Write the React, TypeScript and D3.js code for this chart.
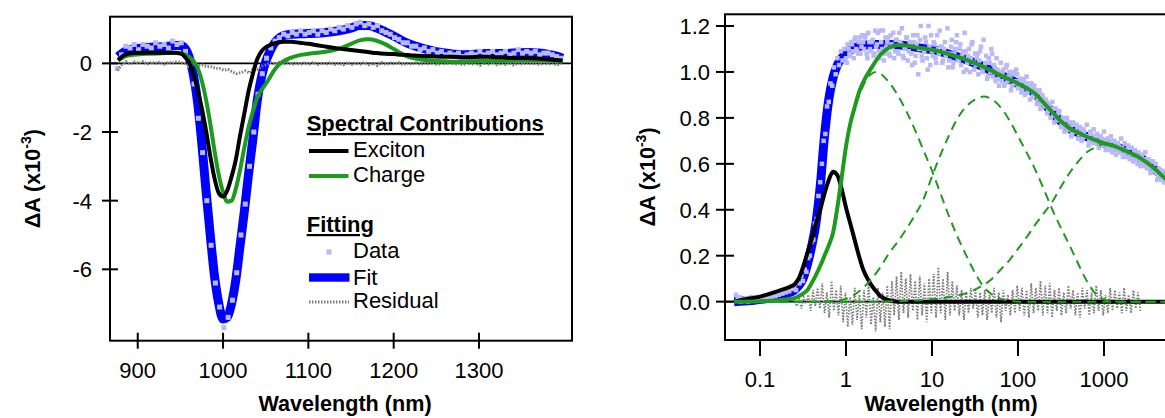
import React from 'react';
import * as d3 from 'd3';

// ---------- Left panel: spectral contributions (x: nm, y: ΔA ×10^-3) ----------
const LEFT_NM = [877,885,895,905,915,925,935,945,950,955,960,965,970,975,980,985,990,995,1000,1005,1010,1015,1020,1025,1030,1035,1040,1045,1050,1055,1060,1065,1070,1080,1090,1100,1110,1120,1130,1140,1150,1160,1170,1180,1190,1200,1210,1220,1230,1240,1250,1260,1270,1280,1290,1300,1310,1320,1330,1340,1350,1360,1370,1380,1390,1398];
const LEFT_FIT = [0.2,0.35,0.42,0.45,0.47,0.48,0.5,0.52,0.52,0.45,0.2,-0.3,-1.1,-2.3,-3.7,-5.0,-6.2,-7.0,-7.45,-7.4,-7.0,-6.3,-5.3,-4.3,-3.2,-2.2,-1.1,-0.4,0.05,0.35,0.58,0.72,0.8,0.85,0.86,0.87,0.88,0.9,0.93,0.97,1.03,1.1,1.1,1.03,0.92,0.8,0.66,0.55,0.47,0.4,0.34,0.3,0.27,0.25,0.26,0.28,0.29,0.29,0.29,0.3,0.31,0.32,0.3,0.27,0.22,0.15];
const LEFT_EXCITON = [0.1,0.25,0.3,0.31,0.31,0.31,0.31,0.31,0.29,0.2,0.03,-0.28,-0.75,-1.3,-1.95,-2.7,-3.35,-3.78,-3.88,-3.7,-3.3,-2.8,-2.1,-1.45,-0.8,-0.3,0.12,0.35,0.47,0.53,0.58,0.61,0.63,0.63,0.6,0.57,0.53,0.49,0.45,0.42,0.39,0.36,0.33,0.3,0.28,0.27,0.25,0.24,0.22,0.21,0.2,0.19,0.19,0.18,0.18,0.19,0.19,0.18,0.17,0.16,0.16,0.15,0.14,0.12,0.1,0.08];
const LEFT_CHARGE = [0.08,0.2,0.25,0.27,0.28,0.29,0.3,0.3,0.29,0.26,0.19,0.08,-0.12,-0.5,-1.05,-1.75,-2.55,-3.25,-3.75,-4.03,-4.0,-3.65,-3.1,-2.45,-1.85,-1.4,-1.0,-0.78,-0.6,-0.4,-0.2,-0.05,0.05,0.17,0.24,0.28,0.31,0.34,0.39,0.46,0.57,0.67,0.7,0.66,0.56,0.42,0.27,0.17,0.12,0.09,0.07,0.06,0.05,0.05,0.06,0.07,0.07,0.07,0.08,0.09,0.1,0.1,0.1,0.09,0.07,0.05];
const LEFT_DATA_START = 876;
const LEFT_DATA_STEP = 5;
const LEFT_DATA = [
  -0.15,0.25,0.5,0.45,0.55,0.4,0.55,0.5,0.45,0.6,
  0.5,0.55,0.45,0.65,0.55,0.6,0.35,-0.05,-0.6,-1.6,
  -2.6,-4.0,-5.3,-6.4,-7.1,-7.7,-7.4,-6.9,-6.1,-5.0,
  -4.1,-3.0,-2.0,-0.9,-0.3,0.15,0.45,0.65,0.75,0.85,
  0.8,0.9,0.85,0.95,0.85,0.9,0.95,0.85,0.95,0.9,
  1.0,0.95,1.05,1.0,1.1,1.05,1.15,1.2,1.1,1.15,
  1.05,1.1,0.95,0.9,0.85,0.75,0.7,0.6,0.6,0.5,
  0.5,0.4,0.45,0.35,0.4,0.3,0.35,0.25,0.3,0.25,
  0.3,0.2,0.25,0.3,0.25,0.35,0.25,0.3,0.35,0.25,
  0.3,0.35,0.25,0.3,0.4,0.3,0.35,0.3,0.35,0.25,
  0.3,0.3,0.25,0.2,0.15
];
const LEFT_RESIDUAL = [
  -0.2,-0.05,0.05,-0.02,0.04,0.0,0.05,-0.03,0.03,0.0,
  0.04,-0.02,0.03,0.01,0.05,0.02,0.0,-0.03,-0.02,-0.06,
  -0.05,-0.09,-0.1,-0.14,-0.15,-0.2,-0.18,-0.25,-0.3,-0.27,
  -0.22,-0.28,-0.15,-0.18,-0.08,-0.04,0.02,-0.03,0.03,-0.02,
  0.02,-0.04,0.01,-0.03,0.02,-0.02,0.03,-0.03,0.01,-0.02,
  0.02,-0.03,0.0,-0.04,0.02,-0.03,0.01,-0.02,0.03,-0.04,
  0.0,-0.06,0.02,-0.03,0.01,-0.02,0.02,-0.04,0.0,-0.02,
  0.02,-0.03,0.01,-0.02,0.02,-0.04,0.01,-0.02,0.03,-0.03,
  0.0,-0.05,0.02,-0.03,0.01,-0.06,0.02,-0.02,0.03,-0.04,
  0.0,-0.03,0.02,-0.05,0.01,-0.03,0.02,-0.02,0.01,-0.04,
  0.02,-0.03,0.01,-0.05,0.0
];
const LEFT_X_TICKS = [900, 1000, 1100, 1200, 1300];
const LEFT_Y_TICKS = [0, -2, -4, -6];

// ---------- Right panel: kinetics (x: log10 of axis value, y: ΔA ×10^-3) ----------
const RIGHT_FIT: [number, number][] = [[-1.3,0],[-1.1,0.005],[-0.9,0.015],[-0.8,0.025],[-0.7,0.035],[-0.6,0.05],[-0.55,0.07],[-0.5,0.1],[-0.45,0.16],[-0.4,0.24],[-0.35,0.34],[-0.3,0.5],[-0.25,0.72],[-0.2,0.88],[-0.15,0.975],[-0.1,1.03],[-0.05,1.06],[0,1.08],[0.1,1.105],[0.2,1.115],[0.3,1.12],[0.4,1.12],[0.5,1.12],[0.6,1.118],[0.7,1.114],[0.8,1.108],[0.9,1.102],[1.0,1.097],[1.2,1.077],[1.4,1.053],[1.6,1.022],[1.8,0.985],[2.0,0.95],[2.1,0.93],[2.2,0.905],[2.3,0.865],[2.4,0.825],[2.5,0.785],[2.6,0.755],[2.7,0.735],[2.8,0.718],[2.9,0.703],[3.0,0.69],[3.1,0.68],[3.2,0.665],[3.3,0.648],[3.4,0.63],[3.5,0.605],[3.6,0.575],[3.7,0.54],[3.8,0.51],[3.9,0.48]];
const RIGHT_EXCITON: [number, number][] = [[-1.3,0],[-1.2,0.008],[-1.0,0.022],[-0.8,0.045],[-0.65,0.065],[-0.6,0.075],[-0.55,0.1],[-0.5,0.15],[-0.45,0.21],[-0.4,0.27],[-0.35,0.34],[-0.3,0.4],[-0.25,0.47],[-0.2,0.53],[-0.15,0.565],[-0.1,0.55],[-0.05,0.49],[0,0.41],[0.05,0.34],[0.1,0.27],[0.15,0.2],[0.2,0.14],[0.25,0.1],[0.3,0.07],[0.35,0.045],[0.4,0.025],[0.5,0.006],[0.6,0],[3.9,0]];
const RIGHT_CHARGE: [number, number][] = [[-1.3,0],[-1.0,0.002],[-0.8,0.006],[-0.6,0.015],[-0.5,0.035],[-0.45,0.05],[-0.4,0.08],[-0.35,0.115],[-0.3,0.155],[-0.25,0.2],[-0.2,0.245],[-0.15,0.3],[-0.1,0.41],[-0.05,0.54],[0,0.675],[0.05,0.775],[0.1,0.845],[0.15,0.91],[0.2,0.955],[0.3,1.02],[0.4,1.075],[0.5,1.105],[0.6,1.117],[0.7,1.115],[0.8,1.108],[0.9,1.102],[1.0,1.097],[1.2,1.077],[1.4,1.053],[1.6,1.022],[1.8,0.985],[2.0,0.95],[2.1,0.93],[2.2,0.905],[2.3,0.865],[2.4,0.825],[2.5,0.785],[2.6,0.755],[2.7,0.735],[2.8,0.718],[2.9,0.703],[3.0,0.69],[3.1,0.68],[3.2,0.665],[3.3,0.648],[3.4,0.63],[3.5,0.605],[3.6,0.575],[3.7,0.54],[3.8,0.51],[3.9,0.48]];
const RIGHT_COMP1: [number, number][] = [[-1.3,0],[-1.0,0.002],[-0.8,0.006],[-0.6,0.015],[-0.5,0.035],[-0.45,0.05],[-0.4,0.08],[-0.35,0.115],[-0.3,0.155],[-0.25,0.2],[-0.2,0.245],[-0.15,0.3],[-0.1,0.41],[-0.05,0.54],[0,0.67],[0.05,0.765],[0.1,0.835],[0.15,0.895],[0.2,0.94],[0.25,0.975],[0.3,0.993],[0.35,1.0],[0.4,0.993],[0.5,0.955],[0.6,0.9],[0.7,0.83],[0.8,0.75],[0.9,0.66],[1.0,0.57],[1.1,0.47],[1.2,0.37],[1.3,0.28],[1.4,0.2],[1.5,0.125],[1.6,0.065],[1.7,0.03],[1.8,0.012],[1.9,0.004],[2.0,0],[3.9,0]];
const RIGHT_COMP2: [number, number][] = [[-1.3,0],[-0.3,0],[-0.2,0.002],[-0.1,0.005],[0,0.012],[0.1,0.03],[0.2,0.06],[0.3,0.1],[0.4,0.15],[0.5,0.21],[0.6,0.26],[0.7,0.315],[0.8,0.375],[0.9,0.445],[1.0,0.545],[1.1,0.64],[1.2,0.725],[1.3,0.8],[1.4,0.85],[1.5,0.88],[1.6,0.893],[1.7,0.88],[1.8,0.845],[1.9,0.79],[2.0,0.72],[2.1,0.65],[2.2,0.575],[2.3,0.49],[2.4,0.4],[2.5,0.32],[2.6,0.245],[2.7,0.165],[2.8,0.09],[2.9,0.035],[3.0,0.01],[3.1,0.002],[3.2,0],[3.9,0]];
const RIGHT_COMP3: [number, number][] = [[-1.3,0],[0.4,0],[0.6,0.002],[0.8,0.005],[1.0,0.01],[1.2,0.02],[1.4,0.037],[1.6,0.073],[1.7,0.1],[1.8,0.14],[1.9,0.18],[2.0,0.23],[2.1,0.28],[2.2,0.335],[2.3,0.385],[2.4,0.435],[2.5,0.5],[2.6,0.56],[2.7,0.61],[2.8,0.65],[2.9,0.672],[3.0,0.685],[3.1,0.68],[3.2,0.665],[3.3,0.648],[3.4,0.63],[3.5,0.605],[3.6,0.575],[3.7,0.54],[3.8,0.51],[3.9,0.48]];
const RIGHT_DATA_LOG_START = -1.28;
const RIGHT_DATA_LOG_STEP = 0.02;
const RIGHT_DATA = [
  0.03,0.01,0.02,0.0,0.01,0.005,0.015,0.0,0.01,0.02,
  0.005,0.015,0.01,0.02,0.01,0.02,0.015,0.025,0.015,0.02,
  0.03,0.02,0.03,0.025,0.035,0.03,0.04,0.035,0.045,0.04,
  0.05,0.045,0.06,0.055,
  0.07,0.05,0.09,0.08,0.11,0.09,0.14,0.13,0.19,0.2,
  0.26,0.27,0.34,0.36,0.46,0.52,0.6,0.7,0.73,0.85,
  0.87,0.95,0.94,1.02,0.99,1.06,1.03,1.09,1.05,1.1,
  1.06,1.12,1.08,1.13,1.09,1.14,1.1,1.08,1.15,1.11,1.13,
  1.15,1.08,1.17,1.1,1.13, 1.07,1.18,1.12,1.09,1.18,
  1.1,1.05,1.15,1.13,1.08, 1.16,1.11,1.06,1.14,1.09,
  1.17,1.12,1.07,1.1,1.15, 1.05,1.13,1.08,1.16,1.04,
  1.12,0.99,1.14,1.07,1.1, 1.15,1.06,1.2,1.03,1.09,
  1.13,1.06,1.16,1.08,1.11, 1.04,1.1,1.07,1.19,1.05,
  1.11,1.02,1.08,1.13,1.06, 1.1,1.03,1.09,1.17,1.01,
  1.07,1.0,1.12,1.04,1.08, 1.06,0.99,1.09,1.02,1.14,
  1.04,0.97,1.06,1.0,1.08, 1.03,0.96,1.01,0.94,1.04,
  0.99,0.94,1.02,0.96,1.0, 0.92,0.99,0.95,1.01,0.93,
  0.97,0.91,0.96,0.9,0.98, 0.94,0.88,0.95,0.9,0.92,
  0.86,0.91,0.84,0.9,0.87, 0.88,0.82,0.86,0.8,0.87,
  0.78,0.84,0.79,0.83,0.76, 0.8,0.74,0.79,0.75,0.78,
  0.72,0.78,0.74,0.77,0.71, 0.76,0.7,0.75,0.72,0.77,
  0.68,0.74,0.7,0.75,0.69, 0.73,0.67,0.72,0.68,0.74,
  0.66,0.71,0.67,0.72,0.65, 0.7,0.64,0.69,0.66,0.71,
  0.63,0.69,0.65,0.68,0.62, 0.67,0.61,0.66,0.62,0.65,
  0.59,0.64,0.6,0.65,0.58, 0.62,0.56,0.61,0.57,0.6,
  0.53,0.58,0.54,0.57,0.52, 0.55,0.5,0.54,0.49,0.53,
  0.48,0.52,0.47
];
// second scan, interleaved with the first
const RIGHT_DATA_B_LOG_START = 0.01;
const RIGHT_DATA_B = [
  1.04,1.1,1.07,1.12,1.06,1.15,1.09,1.13,1.08,1.16,
  1.1,1.16,1.06,1.13,1.09, 1.14,1.08,1.11,1.17,1.06,
  1.13,1.18,1.08,1.11,1.15, 1.07,1.12,1.17,1.09,1.14,
  1.08,1.13,1.19,1.06,1.11, 1.15,1.09,1.12,1.03,1.13,
  1.07,1.16,1.1,1.2,1.05, 1.09,1.13,1.01,1.11,1.16,
  1.07,1.12,1.04,1.1,1.18, 1.11,1.05,1.13,1.08,1.02,
  1.08,1.14,1.04,1.1,1.16, 1.05,1.12,1.07,1.0,1.09,
  1.04,1.1,1.06,1.13,1.01, 1.03,1.08,1.05,1.11,1.0,
  1.02,1.07,0.98,1.04,1.1, 0.98,1.02,1.06,0.97,1.0,
  0.96,1.01,0.95,1.03,0.98, 0.97,0.94,1.0,0.96,0.99,
  0.93,0.96,0.92,0.97,0.95, 0.91,0.95,0.93,0.89,0.94,
  0.9,0.88,0.92,0.86,0.89, 0.85,0.87,0.83,0.86,0.84,
  0.81,0.84,0.8,0.82,0.79, 0.77,0.79,0.76,0.8,0.75,
  0.76,0.73,0.77,0.74,0.76, 0.73,0.75,0.71,0.74,0.72,
  0.72,0.7,0.73,0.69,0.72, 0.7,0.72,0.68,0.71,0.69,
  0.7,0.67,0.69,0.66,0.7, 0.67,0.69,0.66,0.68,0.65,
  0.67,0.64,0.66,0.63,0.67, 0.64,0.62,0.65,0.63,0.6,
  0.63,0.61,0.62,0.59,0.62, 0.59,0.6,0.58,0.61,0.57,
  0.56,0.55,0.57,0.53,0.55, 0.52,0.54,0.51,0.53,0.5,
  0.5,0.48,0.51
];
const RIGHT_RES_LOG_START = -0.6;
const RIGHT_RES_LOG_STEP = 0.027;
const RIGHT_RESIDUAL = [
  0.0,-0.02,0.01,-0.03,0.02,-0.01,0.03,-0.04,0.05,-0.02,0.06,-0.03,0.08,-0.05,0.04,-0.07,0.09,-0.04,0.05,-0.06,
  0.07,-0.09,0.04,-0.11,0.02,-0.1,0.06,-0.08,0.03,-0.12,0.05,-0.07,0.08,-0.1,0.02,-0.13,0.06,-0.09,0.04,-0.11,
  0.07,-0.12,0.09,-0.06,0.11,-0.08,0.13,-0.05,0.1,-0.07,0.12,-0.04,0.09,-0.08,0.11,-0.06,0.08,-0.09,0.1,-0.05,
  0.12,-0.07,0.15,-0.05,0.1,-0.08,0.13,-0.06,0.09,-0.04,0.07,-0.06,0.05,-0.08,0.04,-0.05,0.06,-0.03,0.05,-0.07,
  0.04,-0.06,0.05,-0.08,0.03,-0.05,0.06,-0.07,0.04,-0.09,0.05,-0.04,0.03,-0.06,0.05,-0.05,0.07,-0.04,0.06,-0.06,
  0.05,-0.07,0.08,-0.05,0.06,-0.04,0.09,-0.06,0.07,-0.05,0.08,-0.07,0.05,-0.04,0.06,-0.06,0.04,-0.05,0.07,-0.03,
  0.05,-0.06,0.04,-0.07,0.06,-0.03,0.05,-0.06,0.04,-0.05,0.07,-0.04,0.05,-0.06,0.03,-0.05,0.06,-0.04,0.05,-0.03,
  0.04,-0.05,0.06,-0.04,0.03,-0.05,0.05,-0.03,0.04,-0.04
];
const RIGHT_X_TICKS = [0.1, 1, 10, 100, 1000];
const RIGHT_X_LABELS = ['0.1', '1', '10', '100', '1000'];
const RIGHT_Y_TICKS = [0, 0.2, 0.4, 0.6, 0.8, 1.0, 1.2];

const FONT = "'Liberation Sans', Arial, Helvetica, sans-serif";
const C_BLUE = '#0000ff';
const C_DATA = '#b9b9f5';
const C_GREEN = '#1f9a1f';
const C_GRAY = '#7d7d7d';

export default function App() {
  const W = 1165, H = 418;
  const L = { left: 110, right: 572, top: 16.7, bottom: 340.7 };
  const R = { left: 725, right: 1180, top: 14.3, bottom: 340 };

  const xL = d3.scaleLinear().domain([867.5, 1409]).range([L.left, L.right]);
  const yL = d3.scaleLinear().domain([-8.08, 1.36]).range([L.bottom, L.top]);
  const xR = d3.scaleLog().domain([0.0392, 7656]).range([R.left, R.right]);
  const yR = d3.scaleLinear().domain([-0.167, 1.251]).range([R.bottom, R.top]);

  const lineL = (ys: number[]) =>
    d3.line<number>().x((_, i) => xL(LEFT_NM[i])).y(d => yL(d)).curve(d3.curveMonotoneX)(ys) || '';
  const lineR = (pts: [number, number][]) =>
    d3.line<[number, number]>().x(d => xR(Math.pow(10, d[0]))).y(d => yR(d[1])).curve(d3.curveMonotoneX)(pts) || '';

  const leftRes = d3.line<number>()
    .x((_, i) => xL(LEFT_DATA_START + i * LEFT_DATA_STEP)).y(d => yL(d))(LEFT_RESIDUAL) || '';
  const rightRes = d3.line<number>()
    .x((_, i) => xR(Math.pow(10, RIGHT_RES_LOG_START + i * RIGHT_RES_LOG_STEP))).y(d => yR(d))(RIGHT_RESIDUAL) || '';

  const sq = 5;
  const textStyle: React.CSSProperties = { fontFamily: FONT };
  const TICK_FS = 22;
  const TITLE_FS = 21.6;

  const yTitle = (x: number, y: number) => (
    <text transform={`translate(${x},${y}) rotate(-90)`} textAnchor="middle" fontWeight="bold" fontSize={TITLE_FS} style={textStyle}>
      ΔA (x10<tspan dy={-9} fontSize={14}>-3</tspan><tspan dy={9} fontSize={TITLE_FS}>)</tspan>
    </text>
  );

  const rdot = (lg: number, v: number, key: string) => (
    <rect key={key} x={xR(Math.pow(10, lg)) - 2.25} y={yR(v) - 2.25} width={4.5} height={4.5} fill={C_DATA} />
  );

  return (
    <svg width={W} height={H} style={{ position: 'absolute', left: 0, top: 0, background: '#fff' }}>
      <defs>
        <clipPath id="clipL"><rect x={L.left} y={L.top} width={L.right - L.left} height={L.bottom - L.top} /></clipPath>
        <clipPath id="clipR"><rect x={R.left} y={R.top} width={R.right - R.left} height={R.bottom - R.top} /></clipPath>
      </defs>
      <rect x={0} y={0} width={W} height={H} fill="#fff" />

      {/* ---------------- Left panel ---------------- */}
      <g clipPath="url(#clipL)">
        <line x1={L.left} x2={L.right} y1={yL(0)} y2={yL(0)} stroke="#000" strokeWidth={1.6} />
        <path d={lineL(LEFT_FIT)} fill="none" stroke={C_BLUE} strokeWidth={9} strokeLinejoin="round" />
        {LEFT_DATA.map((v, i) => (
          <rect key={i} x={xL(LEFT_DATA_START + i * LEFT_DATA_STEP) - sq / 2} y={yL(v) - sq / 2} width={sq} height={sq} fill={C_DATA} />
        ))}
        <path d={leftRes} fill="none" stroke={C_GRAY} strokeWidth={3} strokeDasharray="1.5,1.5" />
        <path d={lineL(LEFT_CHARGE)} fill="none" stroke={C_GREEN} strokeWidth={4} strokeLinejoin="round" />
        <path d={lineL(LEFT_EXCITON)} fill="none" stroke="#000" strokeWidth={4} strokeLinejoin="round" />
      </g>
      <rect x={L.left} y={L.top} width={L.right - L.left} height={L.bottom - L.top} fill="none" stroke="#000" strokeWidth={2} />
      {LEFT_Y_TICKS.map(t => (
        <g key={t}>
          <line x1={L.left - 8} x2={L.left + 8} y1={yL(t)} y2={yL(t)} stroke="#000" strokeWidth={2} />
          <text x={L.left - 18} y={yL(t)} dy="0.36em" textAnchor="end" fontSize={TICK_FS} style={textStyle}>{t}</text>
        </g>
      ))}
      {LEFT_X_TICKS.map(t => (
        <g key={t}>
          <line x1={xL(t)} x2={xL(t)} y1={L.bottom - 8} y2={L.bottom + 8} stroke="#000" strokeWidth={2} />
          <text x={xL(t)} y={L.bottom + 37} textAnchor="middle" fontSize={TICK_FS} style={textStyle}>{t}</text>
        </g>
      ))}
      <text x={345} y={411} textAnchor="middle" fontWeight="bold" fontSize={TITLE_FS} style={textStyle}>Wavelength (nm)</text>
      {yTitle(40, 178.7)}

      {/* Legend */}
      <g style={textStyle} fontSize={22}>
        <text x={306.7} y={131} fontWeight="bold" textDecoration="underline">Spectral Contributions</text>
        <line x1={309} x2={348.5} y1={151} y2={151} stroke="#000" strokeWidth={4} />
        <text x={353} y={157}>Exciton</text>
        <line x1={309} x2={348.5} y1={176} y2={176} stroke={C_GREEN} strokeWidth={4} />
        <text x={353} y={182}>Charge</text>
        <text x={306.7} y={232} fontWeight="bold" textDecoration="underline">Fitting</text>
        <rect x={329 - 2.5} y={252 - 2.5} width={5} height={5} fill={C_DATA} />
        <text x={353} y={258}>Data</text>
        <rect x={309} y={273.3} width={40.5} height={8.4} fill={C_BLUE} />
        <text x={353} y={285}>Fit</text>
        <line x1={309} x2={349} y1={302} y2={302} stroke={C_GRAY} strokeWidth={3} strokeDasharray="1.5,1.5" />
        <text x={353} y={308}>Residual</text>
      </g>

      {/* ---------------- Right panel ---------------- */}
      <g clipPath="url(#clipR)">
        <line x1={R.left} x2={R.right} y1={yR(0)} y2={yR(0)} stroke="#000" strokeWidth={1.6} />
        <path d={lineR(RIGHT_FIT)} fill="none" stroke={C_BLUE} strokeWidth={9} strokeLinejoin="round" />
        {RIGHT_DATA.map((v, i) => rdot(RIGHT_DATA_LOG_START + i * RIGHT_DATA_LOG_STEP, v, 'a' + i))}
        {RIGHT_DATA_B.map((v, i) => rdot(RIGHT_DATA_B_LOG_START + i * RIGHT_DATA_LOG_STEP, v, 'b' + i))}
        <path d={rightRes} fill="none" stroke={C_GRAY} strokeWidth={1.8} strokeDasharray="1.5,1.5" />
        <path d={lineR(RIGHT_EXCITON)} fill="none" stroke="#000" strokeWidth={4} strokeLinejoin="round" />
        {[RIGHT_COMP1, RIGHT_COMP2, RIGHT_COMP3].map((c, i) => (
          <path key={i} d={lineR(c)} fill="none" stroke={C_GREEN} strokeWidth={2} strokeDasharray="9,6" />
        ))}
        <path d={lineR(RIGHT_CHARGE)} fill="none" stroke={C_GREEN} strokeWidth={4} strokeLinejoin="round" />
      </g>
      <rect x={R.left} y={R.top} width={R.right - R.left} height={R.bottom - R.top} fill="none" stroke="#000" strokeWidth={2} />
      {RIGHT_Y_TICKS.map(t => (
        <g key={t}>
          <line x1={R.left - 9} x2={R.left + 9} y1={yR(t)} y2={yR(t)} stroke="#000" strokeWidth={2} />
          <text x={R.left - 15} y={yR(t)} dy="0.36em" textAnchor="end" fontSize={TICK_FS} style={textStyle}>{t.toFixed(1)}</text>
        </g>
      ))}
      {RIGHT_X_TICKS.map((t, i) => (
        <g key={t}>
          <line x1={xR(t)} x2={xR(t)} y1={R.bottom} y2={R.bottom + 16} stroke="#000" strokeWidth={2} />
          <text x={xR(t)} y={R.bottom + 47} textAnchor="middle" fontSize={TICK_FS} style={textStyle}>{RIGHT_X_LABELS[i]}</text>
        </g>
      ))}
      <text x={951} y={411} textAnchor="middle" fontWeight="bold" fontSize={TITLE_FS} style={textStyle}>Wavelength (nm)</text>
      {yTitle(655, 177)}
    </svg>
  );
}
